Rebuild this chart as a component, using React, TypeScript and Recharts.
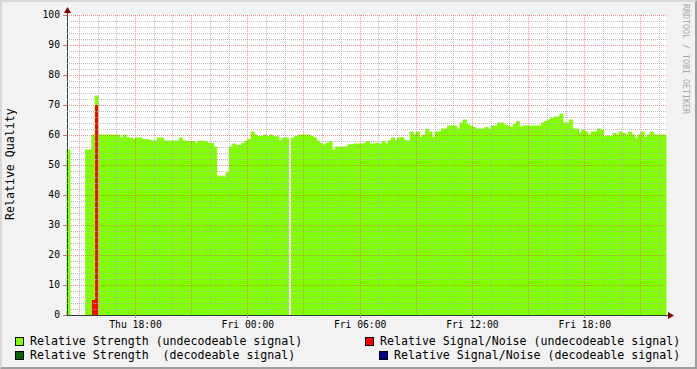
import React from "react"
import { ComposedChart, Bar, XAxis, YAxis, CartesianGrid } from "recharts"

const WIDTH = 697
const HEIGHT = 369
const PLOT_LEFT = 67
const PLOT_TOP = 15
const PLOT_RIGHT = 666
const PLOT_BOTTOM = 315

// hours since Thu 00:00, one bar = 10 minutes
const T_START = 14.34
const T_END = 46.34
const SLOT_HOURS = 1 / 6

// Relative Strength (undecodeable signal), null = no data
const strength: (number | null)[] = [
  55, null, null, null, null, null, 55, 55, 60, 73,
  60, 60, 60, 60, 60, 60, 60, 59, 60, 59,
  59, 58.5, 59, 59, 58.5, 58.5, 58.3, 58, 58, 59,
  59, 58, 58, 58, 58, 58, 59, 58, 58, 57.8,
  57.8, 57.2, 58, 58, 57.8, 57.2, 57.2, 56, 46.3, 46.3,
  46, 47.5, 56, 57, 56.5, 56.5, 57.2, 58, 58.5, 61,
  60, 59.5, 59.5, 60, 59.5, 60, 59.4, 59.4, 58.1, 59,
  59, null, 59, 59.5, 60, 60, 60, 60, 59.5, 59,
  58, 57.2, 56.7, 57.2, 57.8, 55, 56, 56, 56, 56,
  56.7, 56.7, 57, 57, 57, 57.2, 57.8, 57, 57, 57.2,
  57, 57.8, 57, 58.1, 59, 58.1, 59, 59.1, 58.1, 58,
  61, 60, 61, 59.1, 60, 61.9, 61, 59.1, 61, 61,
  62, 62, 63, 63, 63, 62, 64, 65, 63.5, 63,
  62.5, 62, 62, 62, 62.5, 62, 63, 63, 64, 64,
  63.3, 63, 62.5, 63.5, 64.5, 62.6, 63, 63, 63, 63,
  63, 63, 64, 64.5, 65, 65.5, 66, 66, 67, 64,
  64, 65, 62, 62, 60.6, 61.5, 61, 60, 61, 61,
  62, 61.5, 59.4, 59.7, 59.5, 60.5, 60, 61, 60.5, 60,
  61, 60, 58.7, 60, 61, 59.1, 60, 61, 60, 60,
  60, 60,
]

// Relative Signal/Noise (undecodeable signal), only two slots carry a value
const snrSlots = [8, 9]
const snrValues = [5, 70]

const timeTicks = [18, 24, 30, 36, 42]
const timeLabels = ["Thu 18:00", "Fri 00:00", "Fri 06:00", "Fri 12:00", "Fri 18:00"]
const majorHours = [15, 18, 21, 24, 27, 30, 33, 36, 39, 42, 45]
const minorHours = [16, 17, 19, 20, 22, 23, 25, 26, 28, 29, 31, 32, 34, 35, 37, 38, 40, 41, 43, 44, 46]
const yTicks = [0, 10, 20, 30, 40, 50, 60, 70, 80, 90, 100]
const yMajorGrid = [10, 20, 30, 40, 50, 60, 70, 80, 90, 100]
const yMinor = [
  2, 4, 6, 8, 12, 14, 16, 18, 22, 24, 26, 28, 32, 34, 36, 38, 42, 44, 46, 48,
  52, 54, 56, 58, 62, 64, 66, 68, 72, 74, 76, 78, 82, 84, 86, 88, 92, 94, 96, 98,
]

const legendItems = [
  { label: "Relative Strength (undecodeable signal)", color: "#80ff00" },
  { label: "Relative Signal/Noise (undecodeable signal)", color: "#ff0000" },
  { label: "Relative Strength  (decodeable signal)", color: "#006400" },
  { label: "Relative Signal/Noise (decodeable signal)", color: "#00008b" },
]

const data = strength.map((v, i) => {
  const k = snrSlots.indexOf(i)
  return {
    slot: i,
    t: T_START + (i + 0.5) * SLOT_HOURS,
    strength: v,
    snr: k === -1 ? null : snrValues[k],
  }
})

const FONT = "'DejaVu Sans Mono', monospace"
const GRID_MINOR = "rgba(175,175,175,0.8)"
const GRID_MAJOR = "rgba(222,79,79,0.6)"
const AXIS = "#2c3d3a"

// recharts hands the axis scale either as a d3 function or as a wrapper with .map()
function applyScale(s: any, v: number): number | null {
  if (!s) return null
  if (typeof s === "function") return s(v)
  if (typeof s.map === "function") {
    const r = s.map(v)
    return typeof r === "number" ? r : null
  }
  if (typeof s.scale === "function") return s.scale(v)
  return null
}

const xLines = (hours: number[]) => (props: any) => {
  const s = props?.xAxis?.scale
  const out = hours.map((h) => applyScale(s, h)).filter((x) => x != null) as number[]
  if (out.length) return out
  const o = props?.offset
  if (!o) return []
  return hours.map((h) => o.left + ((h - T_START) / (T_END - T_START)) * o.width)
}
const yLines = (vals: number[]) => (props: any) => {
  const s = props?.yAxis?.scale
  const out = vals.map((v) => applyScale(s, v)).filter((x) => x != null) as number[]
  if (out.length) return out
  const o = props?.offset
  if (!o) return []
  return vals.map((v) => o.top + o.height - (v / 100) * o.height)
}

function LegendEntry({ x, y, sx, item }: { x: number; y: number; sx: number; item: { label: string; color: string } }) {
  return (
    <>
      <div
        style={{
          position: "absolute",
          left: sx,
          top: y - 4,
          width: 9,
          height: 9,
          boxSizing: "border-box",
          border: "1px solid #000",
          background: item.color,
        }}
      />
      <div
        style={{
          position: "absolute",
          left: x,
          top: y - 7,
          fontSize: 11.6,
          lineHeight: "14px",
          whiteSpace: "pre",
          color: "#000",
        }}
      >
        {item.label}
      </div>
    </>
  )
}

export default function App() {
  return (
    <div
      style={{
        position: "absolute",
        left: 0,
        top: 0,
        width: WIDTH,
        height: HEIGHT,
        background: "#f2f2f2",
        fontFamily: FONT,
        overflow: "hidden",
      }}
    >
      <style>{`
        .recharts-cartesian-grid line { shape-rendering: crispEdges; }
        .recharts-cartesian-axis line { shape-rendering: crispEdges; }
      `}</style>

      {/* frame */}
      <div
        style={{
          position: "absolute",
          inset: 0,
          boxSizing: "border-box",
          borderTop: "2px solid #d8d8d8",
          borderLeft: "2px solid #d8d8d8",
          borderRight: "2px solid #9e9e9e",
          borderBottom: "2px solid #9e9e9e",
        }}
      />

      {/* canvas */}
      <div
        style={{
          position: "absolute",
          left: PLOT_LEFT,
          top: PLOT_TOP,
          width: PLOT_RIGHT - PLOT_LEFT,
          height: PLOT_BOTTOM - PLOT_TOP,
          background: "#fff",
        }}
      />

      {/* bars + value axis */}
      <div style={{ position: "absolute", left: 0, top: 0 }}>
        <ComposedChart
          width={WIDTH}
          height={HEIGHT}
          data={data}
          margin={{ top: PLOT_TOP, right: WIDTH - PLOT_RIGHT, bottom: HEIGHT - PLOT_BOTTOM, left: 0 }}
          barCategoryGap={0}
          barGap={0}
        >
          <XAxis xAxisId="slot" dataKey="slot" hide height={0} />
          <XAxis xAxisId="slot2" dataKey="slot" hide height={0} />
          <YAxis
            domain={[0, 100]}
            ticks={yTicks}
            interval={0}
            allowDataOverflow
            width={PLOT_LEFT}
            tick={{ fontSize: 9.7, fill: "#000" }}
            tickSize={4}
            tickMargin={3}
            tickLine={{ stroke: "#c87070" }}
            axisLine={{ stroke: AXIS }}
          />
          <Bar
            xAxisId="slot"
            dataKey="strength"
            fill="#80ff00"
            stroke="#80ff00"
            strokeWidth={1}
            isAnimationActive={false}
          />
          <Bar xAxisId="slot2" dataKey="snr" fill="#ff0000" isAnimationActive={false} />
        </ComposedChart>
      </div>

      {/* grid (drawn over the bars) + time axis */}
      <div style={{ position: "absolute", left: 0, top: 0 }}>
        <ComposedChart
          width={WIDTH}
          height={HEIGHT}
          data={data}
          margin={{ top: PLOT_TOP, right: WIDTH - PLOT_RIGHT, bottom: 0, left: PLOT_LEFT }}
        >
          <XAxis
            dataKey="t"
            type="number"
            domain={[T_START, T_END]}
            allowDataOverflow
            ticks={timeTicks}
            interval={0}
            tickFormatter={(v: number) => timeLabels[timeTicks.indexOf(v)] ?? ""}
            height={HEIGHT - PLOT_BOTTOM}
            tick={{ fontSize: 9.7, fill: "#000" }}
            tickSize={3}
            tickMargin={3}
            tickLine={{ stroke: "#999" }}
            axisLine={{ stroke: AXIS }}
          />
          <YAxis domain={[0, 100]} allowDataOverflow hide width={0} />
          <CartesianGrid
            stroke={GRID_MINOR}
            strokeDasharray="1 1"
            verticalCoordinatesGenerator={xLines(minorHours)}
            horizontalCoordinatesGenerator={yLines(yMinor)}
          />
          <CartesianGrid
            stroke={GRID_MAJOR}
            strokeDasharray="1 1"
            verticalCoordinatesGenerator={xLines(majorHours)}
            horizontalCoordinatesGenerator={yLines(yMajorGrid)}
          />
        </ComposedChart>
      </div>

      {/* axis arrows */}
      <svg width={WIDTH} height={HEIGHT} style={{ position: "absolute", left: 0, top: 0, pointerEvents: "none" }}>
        <line x1={PLOT_LEFT + 0.5} y1={PLOT_TOP} x2={PLOT_LEFT + 0.5} y2={11} stroke={AXIS} />
        <polygon points={`${PLOT_LEFT - 3},${13} ${PLOT_LEFT + 4},${13} ${PLOT_LEFT + 0.5},${7}`} fill="#7f0000" />
        <line x1={PLOT_RIGHT} y1={PLOT_BOTTOM + 0.5} x2={669} y2={PLOT_BOTTOM + 0.5} stroke={AXIS} />
        <polygon points={`${668},${PLOT_BOTTOM - 3} ${668},${PLOT_BOTTOM + 4} ${674},${PLOT_BOTTOM + 0.5}`} fill="#7f0000" />
      </svg>

      {/* y title */}
      <div
        style={{
          position: "absolute",
          left: 4,
          top: 108,
          height: 112,
          width: 13,
          writingMode: "vertical-rl",
          transform: "rotate(180deg)",
          fontSize: 11.6,
          lineHeight: "13px",
          textAlign: "center",
          whiteSpace: "nowrap",
          color: "#000",
        }}
      >
        Relative Quality
      </div>

      {/* watermark */}
      <div
        style={{
          position: "absolute",
          left: 681,
          top: 4,
          width: 10,
          writingMode: "vertical-rl",
          fontSize: 8.3,
          lineHeight: "10px",
          whiteSpace: "nowrap",
          color: "#a8a8a8",
        }}
      >
        RRDTOOL / TOBI OETIKER
      </div>

      <LegendEntry sx={15} x={30} y={341} item={legendItems[0]} />
      <LegendEntry sx={365} x={380} y={341} item={legendItems[1]} />
      <LegendEntry sx={15} x={30} y={355} item={legendItems[2]} />
      <LegendEntry sx={379} x={394} y={355} item={legendItems[3]} />
    </div>
  )
}
